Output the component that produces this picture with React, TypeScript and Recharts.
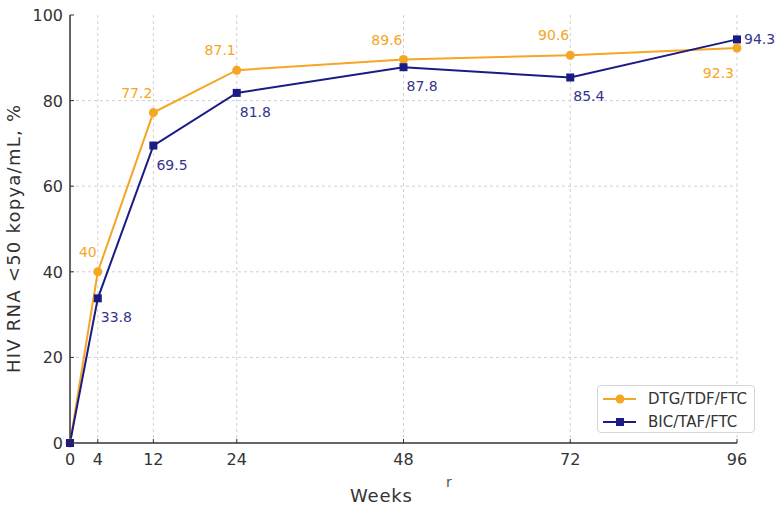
import React from "react";
import {
  LineChart,
  Line,
  XAxis,
  YAxis,
  CartesianGrid,
  LabelList,
} from "recharts";

const WEEKS = [0, 4, 12, 24, 48, 72, 96];
const DTG_TDF_FTC = [0, 40, 77.2, 87.1, 89.6, 90.6, 92.3];
const BIC_TAF_FTC = [0, 33.8, 69.5, 81.8, 87.8, 85.4, 94.3];
const Y_TICKS = [0, 20, 40, 60, 80, 100];

const ORANGE = "#F5A623";
const NAVY = "#1b1b86";
const NAVY_TEXT = "#34348c";
const AXIS = "#333333";
const FONT = "'DejaVu Sans', sans-serif";

const data = WEEKS.map((week, i) => ({
  week,
  dtg: DTG_TDF_FTC[i],
  bic: BIC_TAF_FTC[i],
}));

const XTick = (props: any) => {
  const { x, y, payload } = props;
  return (
    <g>
      <line x1={x} x2={x} y1={y} y2={y - 4} stroke={AXIS} />
      <text x={x} y={y + 22} textAnchor="middle" fontSize={16} fill={AXIS} fontFamily={FONT}>
        {payload.value}
      </text>
    </g>
  );
};

const YTick = (props: any) => {
  const { x, y, payload } = props;
  return (
    <g>
      <line x1={x} x2={x + 4} y1={y} y2={y} stroke={AXIS} />
      <text x={x - 7} y={y + 6} textAnchor="end" fontSize={16} fill={AXIS} fontFamily={FONT}>
        {payload.value}
      </text>
    </g>
  );
};

const dtgLabel = (props: any) => {
  const { x, y, value, index } = props;
  if (index === 0) return null;
  const last = index === WEEKS.length - 1;
  return (
    <text
      x={last ? x - 3 : x - 1}
      y={last ? y + 30 : y - 15}
      textAnchor="end"
      fontSize={14}
      fill={ORANGE}
      fontFamily={FONT}
    >
      {value}
    </text>
  );
};

const bicLabel = (props: any) => {
  const { x, y, value, index } = props;
  if (index === 0) return null;
  const last = index === WEEKS.length - 1;
  return (
    <text
      x={last ? x + 7 : x + 3}
      y={last ? y + 5 : y + 24}
      textAnchor="start"
      fontSize={14}
      fill={NAVY_TEXT}
      fontFamily={FONT}
    >
      {value}
    </text>
  );
};

const SquareDot = (props: any) => {
  const { cx, cy, index } = props;
  if (cx == null || cy == null) return null;
  return <rect key={`sq-${index}`} x={cx - 4} y={cy - 4} width={8} height={8} fill={NAVY} />;
};

const LegendBox = () => (
  <div
    style={{
      position: "absolute",
      left: 597,
      top: 385,
      width: 158,
      height: 48,
      border: "1px solid #d6d6d6",
      borderRadius: 4,
      background: "rgba(255,255,255,0.9)",
      fontFamily: FONT,
      fontSize: 15,
      color: "#333",
      boxSizing: "border-box",
    }}
  >
    <svg width={40} height={48} style={{ position: "absolute", left: 4, top: 0 }}>
      <line x1={1} x2={34} y1={13} y2={13} stroke={ORANGE} strokeWidth={2} />
      <circle cx={18} cy={13} r={4.5} fill={ORANGE} />
      <line x1={1} x2={34} y1={36} y2={36} stroke={NAVY} strokeWidth={2} />
      <rect x={14} y={32} width={8} height={8} fill={NAVY} />
    </svg>
    <div style={{ position: "absolute", left: 50, top: 4, lineHeight: "18px" }}>DTG/TDF/FTC</div>
    <div style={{ position: "absolute", left: 50, top: 27, lineHeight: "18px" }}>BIC/TAF/FTC</div>
  </div>
);

export default function App() {
  return (
    <div style={{ position: "relative", width: 777, height: 505, background: "#fff" }}>
      <style>{"body{margin:0}"}</style>
      <LineChart
        width={777}
        height={505}
        data={data}
        margin={{ top: 15, right: 40, left: 0, bottom: 22 }}
      >
        <CartesianGrid
          stroke="#d0d0d0"
          strokeDasharray="3 3"
          horizontalValues={[20, 40, 60, 80]}
          verticalValues={[4, 12, 24, 48, 72, 96]}
        />
        <XAxis
          dataKey="week"
          type="number"
          domain={[0, 96]}
          ticks={WEEKS}
          interval={0}
          height={40}
          tickSize={0}
          tickMargin={0}
          tick={<XTick />}
          axisLine={{ stroke: AXIS, strokeWidth: 1.5 }}
        />
        <YAxis
          type="number"
          domain={[0, 100]}
          ticks={Y_TICKS}
          interval={0}
          width={70}
          tickSize={0}
          tickMargin={0}
          tick={<YTick />}
          axisLine={{ stroke: AXIS, strokeWidth: 1.5 }}
        />
        <Line
          type="linear"
          dataKey="dtg"
          stroke={ORANGE}
          strokeWidth={2}
          dot={{ r: 4.5, fill: ORANGE, stroke: ORANGE, strokeWidth: 0 }}
          isAnimationActive={false}
        >
          <LabelList dataKey="dtg" content={dtgLabel} />
        </Line>
        <Line
          type="linear"
          dataKey="bic"
          stroke={NAVY}
          strokeWidth={2}
          dot={<SquareDot />}
          isAnimationActive={false}
        >
          <LabelList dataKey="bic" content={bicLabel} />
        </Line>
        <text
          x={20}
          y={239}
          transform="rotate(-90, 20, 239)"
          textAnchor="middle"
          fontSize={18}
          fill={AXIS}
          fontFamily={FONT}
          textLength={268}
          lengthAdjust="spacing"
        >
          HIV RNA &lt;50 kopya/mL, %
        </text>
        <text
          x={381}
          y={502}
          textAnchor="middle"
          fontSize={18}
          fill={AXIS}
          fontFamily={FONT}
          textLength={62}
          lengthAdjust="spacing"
        >
          Weeks
        </text>
        <text x={449} y={487} textAnchor="middle" fontSize={14} fill="#555" fontFamily={FONT}>
          r
        </text>
      </LineChart>
      <LegendBox />
    </div>
  );
}
